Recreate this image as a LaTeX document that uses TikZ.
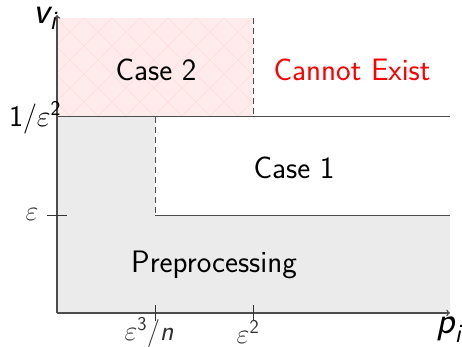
\RequirePackage{fix-cm}
\documentclass[tikz,border=0pt]{standalone}
\usepackage{amsmath}
\usepackage{fontspec}
\usetikzlibrary{arrows}
\newcommand\sfit[1]{\text{\sffamily\itshape #1}}
\tikzset{
  axis/.style={draw=black!70, line width=1.4pt},
  bound/.style={draw=black!70, line width=1pt},
  dashbound/.style={draw=black!70, line width=1pt, dash pattern=on 6pt off 4pt},
  region/.style={font=\fontsize{31}{36}\selectfont\sffamily, inner sep=0pt},
  ticklab/.style={font=\fontsize{28}{33}\selectfont\sffamily, text=black!80, inner sep=0pt},
  axlab/.style={font=\fontsize{38}{42}\selectfont\sffamily, inner sep=0pt},
  tickmark/.style={draw=black!80, line width=1pt}
}
\begin{document}
\begin{tikzpicture}[x=1pt,y=-1pt]
\useasboundingbox (0,0) rectangle (462,347);
% regions
\fill[red!8] (57,18) rectangle (253,117);
\begin{scope}
  \clip (57,18) rectangle (253,117);
  \foreach \k in {-140,-112,...,300} {
    \draw[red!13, line width=0.5pt] (\k,18) -- ++(140,140);
    \draw[red!13, line width=0.5pt] (\k,158) -- ++(140,-140);
  }
\end{scope}
\fill[black!8] (57,117) -- (155,117) -- (155,215) -- (450,215) -- (450,313) -- (57,313) -- cycle;
% boundaries
\coordinate (o) at (57,313);
\coordinate (ytop) at (57,15);
\coordinate (xend) at (450,313);
\coordinate (a1) at (57,117);
\coordinate (a2) at (450,117);
\coordinate (b1) at (155,215);
\coordinate (b2) at (450,215);
\coordinate (c1) at (155,117);
\coordinate (d1) at (253,18);
\coordinate (d2) at (253,117);
\draw[bound] (a1) -- (a2);
\draw[bound] (b1) -- (b2);
\draw[dashbound] (c1) -- (b1);
\draw[dashbound] (d1) -- (d2);
% axes
\draw[axis,->] (o) -- (ytop);
\draw[axis,->] (o) -- (xend);
% ticks
\draw[tickmark] (47,215) -- (67,215);
\draw[tickmark] (155,305) -- (155,321);
\draw[tickmark] (253,305) -- (253,321);
% axis labels
\node[axlab] (vi) at (45,18) {$\sfit{v}_{\sfit{i}}$};
\node[axlab] (pi) at (449,330) {$\sfit{p}_{\sfit{i}}$};
% tick labels
\node[ticklab] (le) at (32,214) {$\varepsilon$};
\node[ticklab, text=black, font=\fontsize{30}{34}\selectfont\sffamily] (lee) at (35,118) {$\mathsf{1}/\varepsilon^{\mathsf{2}}$};
\node[ticklab] (le3) at (149,332) {$\varepsilon^{\mathsf{3}}/\sfit{n}$};
\node[ticklab] (le2) at (248,332) {$\varepsilon^{\mathsf{2}}$};
% region labels
\node[region] (c2) at (156,70) {Case 2};
\node[region, text=red] (ce) at (352,70) {Cannot Exist};
\node[region] (c1l) at (294,168) {Case 1};
\node[region] (pp) at (214,265) {Preprocessing};
\end{tikzpicture}
\end{document}
